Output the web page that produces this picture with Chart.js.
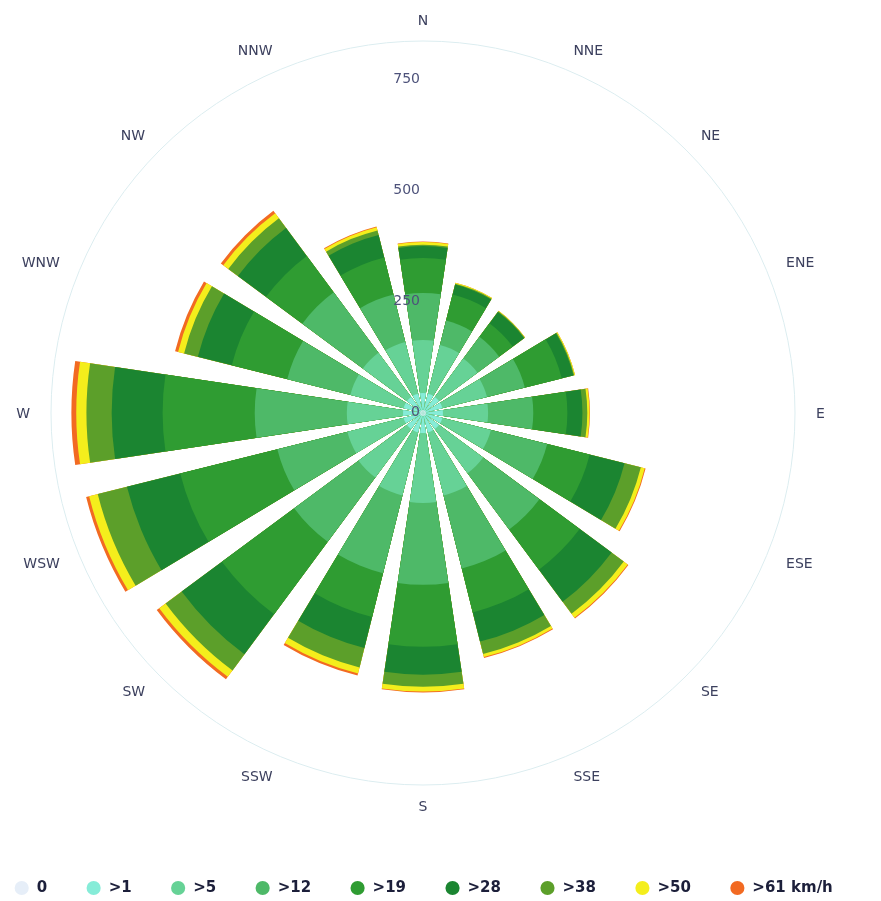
<!DOCTYPE html>
<html>
<head>
<meta charset="utf-8">
<script src="https://cdn.jsdelivr.net/npm/chart.js@4.4.1/dist/chart.umd.min.js"></script>
<style>
  html, body { margin: 0; padding: 0; background: #ffffff; }
  #wrap { width: 881px; height: 901px; }
</style>
</head>
<body>
<div id="wrap"><canvas id="c" width="881" height="901"></canvas></div>
<script>
// ---- data (frequencies per direction, N clockwise to NNW) ----
const directions = ['N','NNE','NE','ENE','E','ESE','SE','SSE','S','SSW','SW','WSW','W','WNW','NW','NNW'];
const speedBands = ['0', '>1', '>5', '>12', '>19', '>28', '>38', '>50', '>61 km/h'];
const bandColors = ['#e6eef8', '#86ecd8', '#66d296', '#4eb968', '#2f9c32', '#1b8531', '#5c9f2a', '#f4ee1c', '#f26a22'];

const calm    = [7, 7, 7, 7, 7, 7, 7, 7, 7, 7, 7, 7, 7, 7, 7, 7];
const over1   = [38, 38, 38, 38, 38, 38, 38, 38, 38, 38, 38, 38, 38, 38, 38, 38];
const over5   = [120, 113, 108, 104, 102, 113, 124, 147, 158, 147, 136, 131, 127, 124, 124, 120];
const over12  = [106, 57, 61, 88, 102, 131, 158, 170, 185, 181, 181, 163, 208, 147, 170, 111];
const over19  = [79, 61, 38, 86, 77, 99, 113, 102, 140, 102, 203, 226, 208, 129, 102, 86];
const over28  = [27, 23, 32, 27, 34, 81, 90, 68, 63, 72, 113, 124, 115, 79, 79, 52];
const over38  = [3, 2, 2, 2, 11, 38, 34, 29, 27, 45, 45, 68, 57, 32, 27, 11];
const over50  = [6, 2, 1, 2, 5, 9, 11, 7, 11, 14, 18, 20, 23, 14, 14, 7];
const over61  = [1, 0, 0, 0, 1, 2, 2, 2, 2, 5, 7, 7, 11, 7, 7, 2];

const tickValues = [0, 250, 500, 750];
const scaleMax = 840;

const bandSeries = [calm, over1, over5, over12, over19, over28, over38, over50, over61];

// ---- layout constants ----
const BAR_ANGLE = 17;   // degrees per direction bar
const GAP_ANGLE = 5.5;  // degrees of empty wedge between bars
const CENTER_SHIFT = -15; // move the rose left of the page centre

// cumulative stacks: dataset i reaches the top of band i (innermost drawn on top)
const running = directions.map(() => 0);
const datasets = bandSeries.map((series, i) => {
  const data = [];
  series.forEach((v, k) => {
    running[k] += v;
    data.push(running[k]);
    data.push(0); // gap wedge
  });
  return {
    label: speedBands[i],
    data: data,
    backgroundColor: bandColors[i],
    borderWidth: 0,
    angle: (ctx) => (ctx.dataIndex % 2 === 0 ? BAR_ANGLE : GAP_ANGLE)
  };
});

const labels = [];
directions.forEach(d => { labels.push(d); labels.push(''); });

const roseLabels = {
  id: 'roseLabels',
  afterDatasetsDraw(chart) {
    const s = chart.scales.r;
    const ctx = chart.ctx;
    ctx.save();
    // radial value labels
    ctx.font = '14px "DejaVu Sans", sans-serif';
    ctx.fillStyle = '#4d527a';
    ctx.textAlign = 'right';
    ctx.textBaseline = 'middle';
    tickValues.forEach(v => {
      ctx.fillText(String(v), s.xCenter - 3, s.yCenter - s.getDistanceFromCenterForValue(v) - 1);
    });
    // compass labels
    ctx.font = '14px "DejaVu Sans", sans-serif';
    ctx.fillStyle = '#3c405e';
    directions.forEach((d, k) => {
      const a = k * 22.5 * Math.PI / 180;
      const sn = Math.sin(a), cs = Math.cos(a);
      const R = s.drawingArea + 21;
      ctx.textAlign = sn > 0.1 ? 'left' : (sn < -0.1 ? 'right' : 'center');
      ctx.fillText(d, s.xCenter + R * sn, s.yCenter - R * cs + 1);
    });
    ctx.restore();
  }
};

new Chart(document.getElementById('c'), {
  type: 'polarArea',
  data: { labels: labels, datasets: datasets },
  options: {
    responsive: false,
    animation: false,
    layout: { padding: { top: 41, bottom: 0, left: -30, right: 4 } },
    scales: {
      r: {
        min: 0,
        max: scaleMax,
        startAngle: -BAR_ANGLE / 2,
        afterFit: (scale) => { scale.xCenter += CENTER_SHIFT; },
        ticks: { display: false, stepSize: 250 },
        pointLabels: { display: false },
        angleLines: { display: false },
        grid: {
          circular: true,
          lineWidth: 1,
          color: (c) => (c.tick && c.tick.value >= scaleMax - 1 ? '#dcedf0' : 'rgba(0,0,0,0)')
        }
      }
    },
    plugins: {
      tooltip: { enabled: false },
      legend: {
        position: 'bottom',
        maxHeight: 116,
        title: { display: true, text: '', font: { size: 10, lineHeight: 1 }, padding: { top: 46.5, bottom: 0 } },
        labels: {
          usePointStyle: true,
          boxWidth: 15,
          boxHeight: 10,
          padding: 39,
          color: '#1c1f3a',
          font: { family: '"DejaVu Sans", sans-serif', size: 15, weight: 'bold' },
          generateLabels: (chart) => chart.data.datasets.map((ds, i) => ({
            text: ds.label,
            fillStyle: ds.backgroundColor,
            strokeStyle: ds.backgroundColor,
            lineWidth: 0,
            pointStyle: 'circle',
            hidden: false,
            datasetIndex: i,
            fontColor: '#1c1f3a'
          }))
        }
      }
    }
  },
  plugins: [roseLabels]
});
</script>
</body>
</html>
